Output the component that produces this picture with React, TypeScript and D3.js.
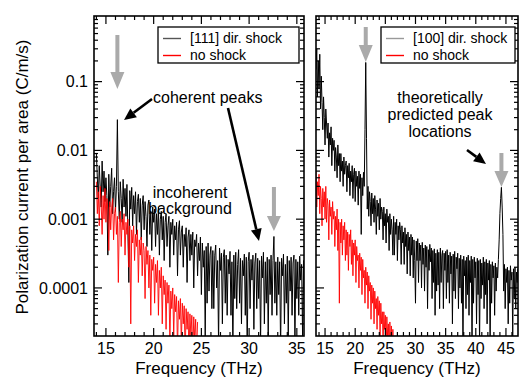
import * as d3 from 'd3';
import React from 'react';

// [111] direction shock (left panel), sampled every 0.1 THz from 14.0 THz
const leftFreqStart = 14.0;
const leftFreqStep = 0.1;
const leftShock = [
  9e-3, 4e-3, 2e-3, 6e-3, 3e-3, 1.5e-3, 7e-3, 2.5e-3, 5e-3, 1.8e-3,
  4e-3, 2.2e-3, 3e-4, 4.5e-3, 1.5e-3, 3e-3, 5.5e-3, 1.2e-3, 2.5e-3, 4e-3,
  1.3e-3, 3e-3, 2.8e-2, 2.5e-3, 1e-3, 3.5e-3, 2e-3, 9e-4, 3.8e-3, 1.5e-3,
  2.8e-3, 1.1e-3, 3.2e-3, 7e-4, 1.2e-4, 2.6e-3, 1.4e-3, 2.9e-3, 8e-4, 2.2e-3,
  1.2e-3, 2.5e-3, 6e-4, 1.8e-3, 2.3e-3, 9e-4, 2e-3, 5e-4, 1.6e-3, 2.2e-3,
  7e-4, 1.8e-3, 1.1e-3, 4e-4, 1.6e-3, 1.9e-3, 6e-4, 1.3e-3, 3.5e-4, 1.5e-3,
  9e-4, 1.4e-3, 4e-4, 1.2e-3, 6e-4, 1.5e-3, 3e-4, 1e-3, 1.3e-3, 5e-4,
  1.1e-3, 2.5e-4, 9e-4, 1.2e-3, 4e-4, 8e-4, 1.1e-3, 2e-4, 9e-4, 6e-4,
  1e-3, 3e-4, 8e-4, 5e-4, 9e-4, 1.5e-4, 7e-4, 9.5e-4, 3e-4, 6.5e-4,
  8e-4, 2e-4, 6e-4, 4e-4, 7.5e-4, 1.2e-4, 5.5e-4, 7e-4, 2.5e-4, 6e-4,
  3e-4, 6.5e-4, 1e-4, 5e-4, 4e-4, 6e-4, 1.5e-4, 4.5e-4, 2.5e-4, 5.5e-4,
  8e-5, 4.5e-4, 2e-4, 3.5e-4, 2e-5, 4e-4, 6e-5, 4.5e-4, 9e-5, 3e-4,
  4e-4, 5e-5, 3.5e-4, 5e-5, 3e-4, 4.2e-4, 1e-4, 2.5e-4, 1.5e-5, 3.8e-4,
  1.8e-4, 3.2e-4, 3e-5, 2.8e-4, 3.6e-4, 6e-5, 3e-4, 4e-5, 2.6e-4, 1.6e-4,
  3.4e-4, 4e-5, 2.4e-4, 1.2e-5, 3e-4, 7e-5, 3.3e-4, 5e-5, 2.2e-4, 3.6e-4,
  6e-5, 2.7e-4, 3e-5, 2.5e-4, 1.5e-4, 3.1e-4, 4e-5, 2.8e-4, 1.2e-5, 2.4e-4,
  3.3e-4, 5e-5, 2.6e-4, 1.3e-4, 3e-4, 2.5e-5, 2.3e-4, 3.2e-4, 5e-5, 2.7e-4,
  7e-5, 2.5e-4, 1.5e-5, 2.9e-4, 1.4e-4, 3.3e-4, 3e-5, 2.4e-4, 6e-5, 2.8e-4,
  2e-5, 2.6e-4, 8e-5, 3e-4, 4e-5, 2.5e-4, 5.6e-4, 6e-5, 2.4e-4, 4e-5,
  2.8e-4, 8e-5, 2.4e-4, 1.2e-5, 2.7e-4, 1.5e-4, 3.1e-4, 3e-5, 2.2e-4, 6e-5,
  2.9e-4, 2e-5, 2.5e-4, 9e-5, 2.8e-4, 4e-5, 2.3e-4, 3e-4, 1.5e-5, 2.6e-4,
  7e-5, 2.4e-4, 4e-5, 2.9e-4, 1.3e-4, 2.2e-4, 2e-5, 2.5e-4, 6e-5,
];
const leftNoShock = [
  3.5e-3, 1.2e-3, 2.5e-3, 8e-4, 3e-3, 1.8e-3, 6e-4, 2.2e-3, 1e-3, 2.8e-3,
  9e-4, 2e-3, 1.4e-3, 3.5e-4, 1.8e-3, 7e-4, 1.5e-3, 2e-3, 5e-4, 1.2e-3,
  1.5e-3, 6e-4, 1.1e-3, 1.2e-4, 9e-4, 1.3e-3, 4e-4, 1e-3, 7e-4, 1.2e-3,
  3e-4, 9e-4, 6e-4, 1e-3, 2e-4, 8e-4, 3e-5, 7e-4, 4.5e-4, 8e-4,
  2.5e-4, 6e-4, 4e-4, 7e-4, 1.2e-4, 5e-4, 3e-4, 5.5e-4, 1.5e-4, 4.5e-4,
  3.5e-4, 7e-5, 4e-4, 2.2e-4, 3.5e-4, 1e-4, 3e-4, 4e-5, 2.6e-4, 1.8e-4,
  2.8e-4, 6e-5, 2.2e-4, 1.2e-4, 2.5e-4, 4e-5, 1.8e-4, 1e-4, 2e-4, 3e-5,
  1.5e-4, 8e-5, 1.3e-4, 2.5e-5, 1.2e-4, 6e-5, 1.1e-4, 1.5e-5, 9e-5, 5e-5,
  1e-4, 2e-5, 8e-5, 4.5e-5, 7.5e-5, 1.2e-5, 6.5e-5, 3.5e-5, 7e-5, 1.5e-5,
  6e-5, 3e-5, 5.5e-5, 1e-5, 5e-5, 2.5e-5, 4.5e-5, 1.1e-5, 4.2e-5, 2e-5,
  4e-5, 1e-5, 3.8e-5, 1.8e-5, 3.5e-5, 1e-5, 3.2e-5,
];
const leftPeaks = [16.2, 32.6];

// [100] direction shock (right panel), sampled every 0.125 THz from 13.5 THz
const rightFreqStart = 13.5;
const rightFreqStep = 0.125;
const rightShock = [
  0.15, 0.3, 0.06, 0.2, 0.08, 0.25, 0.04, 0.12,
  0.05, 0.02, 0.06, 0.03, 0.012, 0.04, 0.025, 0.015,
  0.025, 0.008, 0.018, 0.012, 0.022, 0.006, 0.015, 0.01,
  0.014, 0.005, 0.011, 0.008, 0.004, 0.012, 0.006, 0.009,
  0.0035, 0.009, 0.005, 0.007, 0.003, 0.008, 0.0045, 0.006,
  0.007, 0.0025, 0.006, 0.004, 0.0065, 0.0022, 0.005, 0.0035,
  0.006, 0.002, 0.0045, 0.0055, 0.0018, 0.005, 0.003, 0.0042,
  0.0016, 0.005, 0.0028, 0.0045, 6e-4, 0.004, 0.0022, 0.0048,
  0.003, 0.02, 0.19, 0.015, 0.0014, 0.003, 0.0011, 0.0025,
  0.0018, 8e-4, 0.0024, 0.0012, 0.002, 9e-4, 0.0022, 0.0014,
  6e-4, 0.0019, 0.0011, 0.0017, 7e-4, 0.002, 0.001, 0.0015,
  0.0013, 5e-4, 0.0015, 8e-4, 0.0012, 4.5e-4, 0.0014, 9e-4,
  0.0011, 3.5e-4, 0.0012, 6e-4, 0.001, 7e-4, 3e-4, 0.0011,
  3e-4, 9e-4, 6e-4, 0.001, 2.5e-4, 8e-4, 5e-4, 9e-4,
  7e-4, 2.2e-4, 8e-4, 4.5e-4, 6.5e-4, 2.2e-4, 7.5e-4, 4e-4,
  6e-4, 1.6e-4, 6.5e-4, 3.5e-4, 5.5e-4, 1.5e-4, 6e-4, 3e-4,
  5.5e-4, 1.4e-4, 5e-4, 2.5e-4, 6e-5, 4.8e-4, 2.5e-4, 5.2e-4,
  1.2e-4, 4.5e-4, 2.5e-4, 4.2e-4, 1e-4, 4.6e-4, 2.2e-4, 3.8e-4,
  9e-5, 4.2e-4, 2e-4, 4e-4, 5e-5, 3.6e-4, 1.8e-4, 4.3e-4,
  2.4e-4, 3.8e-4, 7e-5, 3.5e-4, 1.2e-4, 3.7e-4, 4e-5, 3.2e-4,
  9e-5, 3.6e-4, 1.1e-4, 3.3e-4, 5e-5, 3.8e-4, 1.2e-4, 3e-4,
  3.5e-4, 5e-5, 3.2e-4, 1.8e-4, 3.4e-4, 7e-5, 3.6e-4, 1.2e-4,
  3e-4, 6e-5, 3.3e-4, 1.6e-4, 2.9e-4, 3e-5, 3.1e-4, 9e-5,
  3.4e-4, 7e-5, 2.8e-4, 1.9e-4, 3.2e-4, 5e-5, 2.7e-4, 1e-4,
  3e-4, 6e-5, 2.6e-4, 1.2e-5, 2.9e-4, 1.5e-4, 2.5e-4, 5e-5,
  2.8e-4, 8e-5, 3e-4, 4e-5, 2.5e-4, 1.2e-4, 2.9e-4, 1.2e-5,
  2.6e-4, 6e-5, 2.8e-4, 1.4e-4, 2.4e-4, 3e-5, 2.7e-4, 8e-5,
  2.5e-4, 1.5e-5, 2.6e-4, 7e-5, 2.3e-4, 1.1e-4, 2.8e-4, 5e-5,
  2.4e-4, 8e-5, 2.6e-4, 3e-5, 2.3e-4, 1.3e-4, 2.5e-4, 1.2e-5,
  2.2e-4, 6e-5, 2.4e-4, 1.4e-4, 2.1e-4, 4e-5, 2.3e-4, 9e-5,
  2e-4, 1.4e-4, 2.6e-4, 5e-4, 0.0012, 0.002, 0.0029, 0.0015,
  6e-4, 9e-5, 2.2e-4, 5e-5, 1.9e-4, 1.2e-4, 2e-4, 3e-5,
  1.8e-4, 6e-5, 2.1e-4, 1.3e-4, 1.7e-4, 2e-5, 1.9e-4, 7e-5,
  2e-4, 5e-5, 1.7e-4, 1.2e-4, 1.9e-4, 4e-5, 1.8e-4, 8e-5,
];
const rightNoShock = [
  5e-3, 1.5e-3, 3.5e-3, 2.2e-3, 4.5e-3, 1.2e-3, 3e-3, 2e-3,
  8e-4, 2.8e-3, 1.5e-3, 2.5e-3, 1e-3, 3e-3, 9e-4, 2e-3,
  1.6e-3, 5e-4, 1.9e-3, 1.1e-3, 1.5e-3, 6e-4, 1.8e-3, 1e-3,
  1.3e-3, 4e-4, 1.1e-3, 7e-4, 1.4e-3, 3.5e-4, 1e-3, 6e-5,
  9e-4, 4.5e-4, 1e-3, 3e-4, 8e-4, 5e-4, 9e-4, 2.5e-4,
  7e-4, 3e-4, 6.5e-4, 1.8e-4, 6e-4, 4e-4, 7e-4, 2.2e-4,
  5e-4, 1.5e-4, 4.5e-4, 3e-4, 5e-4, 1.2e-4, 4e-4, 2.5e-4,
  3e-4, 1e-4, 3.2e-4, 1.8e-4, 2.8e-4, 8e-5, 2.6e-4, 1.4e-4,
  1.8e-4, 6e-5, 2e-4, 1.1e-4, 1.7e-4, 5e-5, 1.5e-4, 9e-5,
  1.2e-4, 3.5e-5, 1.1e-4, 6e-5, 1e-4, 3e-5, 9e-5, 5e-5,
  7e-5, 2.5e-5, 7.5e-5, 4e-5, 6.5e-5, 2e-5, 6e-5, 3e-5,
  4.5e-5, 1.5e-5, 4.5e-5, 2.5e-5, 4e-5, 1.2e-5, 3.8e-5, 2e-5,
  3e-5, 1e-5, 3.2e-5, 1.5e-5, 2.8e-5, 1e-5, 2.5e-5, 1e-5,
];
const rightPeaks = [21.75, 44.25];

const yTickValues = [0.1, 0.01, 0.001, 0.0001];
const yTickLabels = ['0.1', '0.01', '0.001', '0.0001'];
const leftXTicks = [15, 20, 25, 30, 35];
const rightXTicks = [15, 20, 25, 30, 35, 40, 45];

const FONT = "'Liberation Sans', Arial, Helvetica, sans-serif";
const top = 16;
const bottom = 336;

const yScale = d3.scaleLog().domain([2e-5, 0.9]).range([bottom, top]);

function headPath(x1: number, y1: number, x2: number, y2: number, len: number, w: number) {
  const a = Math.atan2(y2 - y1, x2 - x1);
  const bx = x2 - len * Math.cos(a);
  const by = y2 - len * Math.sin(a);
  const px = (-Math.sin(a) * w) / 2;
  const py = (Math.cos(a) * w) / 2;
  return { d: `M${x2},${y2}L${bx + px},${by + py}L${bx - px},${by - py}Z`, bx, by };
}

function BlackArrow({ x1, y1, x2, y2 }: { x1: number; y1: number; x2: number; y2: number }) {
  const h = headPath(x1, y1, x2, y2, 12, 11);
  return (
    <g>
      <line x1={x1} y1={y1} x2={h.bx} y2={h.by} stroke='black' strokeWidth={2.6} />
      <path d={h.d} fill='black' />
    </g>
  );
}

function GrayArrow({ x, y0, yHead, yTip }: { x: number; y0: number; yHead: number; yTip: number }) {
  return (
    <g fill='#aaaaaa'>
      <rect x={x - 2} y={y0} width={4} height={yHead - y0 + 1} />
      <path d={`M${x - 7},${yHead}L${x + 7},${yHead}L${x},${yTip}Z`} />
    </g>
  );
}

type PanelProps = {
  id: string;
  x0: number;
  x1: number;
  xDomain: [number, number];
  start: number;
  step: number;
  shock: number[];
  noShock: number[];
  xTicks: number[];
  showYLabels: boolean;
  legendLabel: string;
  legendLineColor: string;
  legendX: number;
  legendW: number;
  peaks: number[];
  peakArrows: { y0: number; yHead: number; yTip: number }[];
};

function Panel(p: PanelProps) {
  const xScale = d3.scaleLinear().domain(p.xDomain).range([p.x0, p.x1]);
  const line = (vals: number[]) =>
    d3
      .line<number>()
      .x((_, i) => xScale(p.start + i * p.step))
      .y((v) => yScale(v))(vals) ?? '';

  const yMinor = yScale.ticks();
  const xMinor = d3.range(Math.ceil(p.xDomain[0]), Math.floor(p.xDomain[1]) + 1);

  const ticks = [];
  for (const v of yMinor) {
    const major = Math.abs(Math.log10(v) - Math.round(Math.log10(v))) < 1e-6;
    const len = major ? 8 : 4;
    const y = yScale(v);
    if (y < top + 1 || y > bottom - 1) continue;
    ticks.push(<line key={'yl' + v} x1={p.x0} x2={p.x0 + len} y1={y} y2={y} />);
    ticks.push(<line key={'yr' + v} x1={p.x1} x2={p.x1 - len} y1={y} y2={y} />);
  }
  for (const f of xMinor) {
    const len = f % 5 === 0 ? 8 : 4;
    const x = xScale(f);
    if (x < p.x0 + 1 || x > p.x1 - 1) continue;
    ticks.push(<line key={'xb' + f} x1={x} x2={x} y1={bottom} y2={bottom - len} />);
    ticks.push(<line key={'xt' + f} x1={x} x2={x} y1={top} y2={top + len} />);
  }

  return (
    <g>
      <defs>
        <clipPath id={p.id}>
          <rect x={p.x0} y={top} width={p.x1 - p.x0} height={bottom - top} />
        </clipPath>
      </defs>
      <g clipPath={`url(#${p.id})`} fill='none' strokeLinejoin='miter'>
        <path d={line(p.shock)} stroke='#000' strokeWidth={1} />
        <path d={line(p.noShock)} stroke='#ff0000' strokeWidth={0.9} />
      </g>
      {p.peaks.map((f, i) => (
        <GrayArrow key={f} x={xScale(f)} {...p.peakArrows[i]} />
      ))}
      <g stroke='black' strokeWidth={1.2}>{ticks}</g>
      <rect x={p.x0} y={top} width={p.x1 - p.x0} height={bottom - top} fill='none' stroke='black' strokeWidth={1.6} />
      {p.xTicks.map((t) => (
        <text key={t} x={xScale(t)} y={354} textAnchor='middle' fontSize={16}>
          {t}
        </text>
      ))}
      {p.showYLabels &&
        yTickValues.map((v, i) => (
          <text key={v} x={88} y={yScale(v)} dy='0.36em' textAnchor='end' fontSize={16}>
            {yTickLabels[i]}
          </text>
        ))}
      <text x={(p.x0 + p.x1) / 2} y={374} textAnchor='middle' fontSize={17}>
        Frequency (THz)
      </text>
      <g>
        <rect x={p.legendX} y={27} width={p.legendW} height={36} fill='white' stroke='black' strokeWidth={1.3} />
        <line x1={p.legendX + 5} x2={p.legendX + 23} y1={38.5} y2={38.5} stroke={p.legendLineColor} strokeWidth={1.4} />
        <line x1={p.legendX + 5} x2={p.legendX + 23} y1={55.5} y2={55.5} stroke='#ff0000' strokeWidth={1.4} />
        <text x={p.legendX + 32} y={43} fontSize={14}>
          {p.legendLabel}
        </text>
        <text x={p.legendX + 32} y={60} fontSize={14}>
          no shock
        </text>
      </g>
    </g>
  );
}

export default function App() {
  return (
    <svg width={522} height={381} style={{ display: 'block', position: 'absolute', left: 0, top: 0, background: 'white' }} fontFamily={FONT}>
      <Panel
        id='clipLeft'
        x0={94}
        x1={304}
        xDomain={[13.75, 35.75]}
        start={leftFreqStart}
        step={leftFreqStep}
        shock={leftShock}
        noShock={leftNoShock}
        xTicks={leftXTicks}
        showYLabels={true}
        legendLabel='[111] dir. shock'
        legendLineColor='#555'
        legendX={158}
        legendW={141}
        peaks={leftPeaks}
        peakArrows={[
          { y0: 35, yHead: 72, yTip: 89 },
          { y0: 187, yHead: 216, yTip: 231 },
        ]}
      />
      <Panel
        id='clipRight'
        x0={316}
        x1={518}
        xDomain={[13.5, 47.0]}
        start={rightFreqStart}
        step={rightFreqStep}
        shock={rightShock}
        noShock={rightNoShock}
        xTicks={rightXTicks}
        showYLabels={false}
        legendLabel='[100] dir. shock'
        legendLineColor='#999'
        legendX={381}
        legendW={134}
        peaks={rightPeaks}
        peakArrows={[
          { y0: 27, yHead: 45, yTip: 62 },
          { y0: 153, yHead: 171, yTip: 187 },
        ]}
      />
      <text transform='translate(28,177) rotate(-90)' textAnchor='middle' fontSize={17}>
        Polarization current per area (C/m/s)
      </text>

      <text x={153} y={103} fontSize={16}>
        coherent peaks
      </text>
      <BlackArrow x1={152} y1={99} x2={124} y2={120} />
      <BlackArrow x1={228} y1={108} x2={259} y2={241} />
      <text x={190} y={198} textAnchor='middle' fontSize={16}>
        incoherent
      </text>
      <text x={190} y={214} textAnchor='middle' fontSize={16}>
        background
      </text>

      <text x={440} y={103} textAnchor='middle' fontSize={16}>
        theoretically
      </text>
      <text x={440} y={120} textAnchor='middle' fontSize={16}>
        predicted peak
      </text>
      <text x={440} y={137} textAnchor='middle' fontSize={16}>
        locations
      </text>
      <BlackArrow x1={467} y1={150} x2={486} y2={164} />
    </svg>
  );
}
